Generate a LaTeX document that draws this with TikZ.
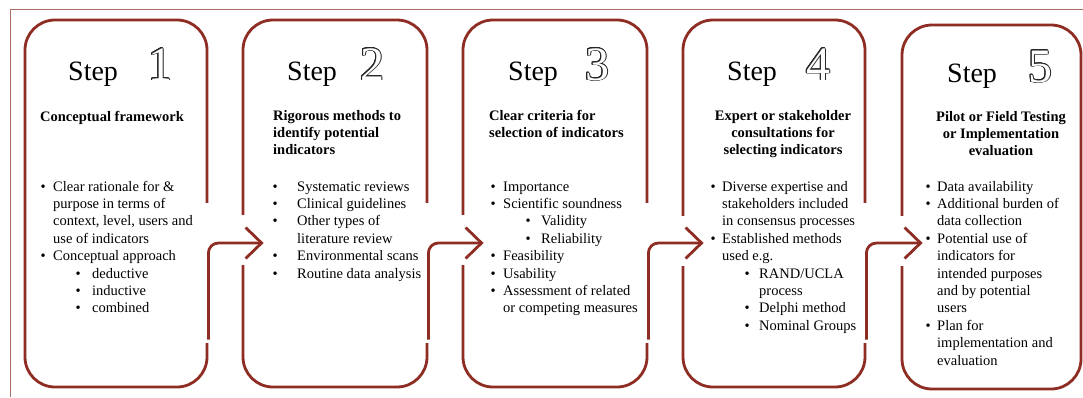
\documentclass[tikz,border=0pt]{standalone}
\usepackage{fontspec}
\setmainfont{Liberation Serif}
\usepackage[copies]{contour}
\usetikzlibrary{arrows.meta}
\definecolor{boxred}{RGB}{142,45,35}
\definecolor{framec}{RGB}{170,110,105}
\newcommand{\bl}[1]{\makebox[#1][l]{\textbullet}}
\newcommand{\dig}[1]{{\color{white}\contour{black!85}{#1}}}
\contourlength{0.8pt}
\begin{document}
\begin{tikzpicture}[x=1pt,y=-1pt,
  stepbox/.style={draw=boxred, line width=2.8pt, rounded corners=30pt, inner sep=0pt, minimum height=367pt},
  conn/.style={draw=boxred, line width=2.8pt, rounded corners=10pt, -{Straight Barb[length=16pt,width=31pt]}},
  gap/.style={fill=white, draw=none},
  steplbl/.style={font=\fontsize{28}{30}\selectfont, anchor=base west, inner sep=0pt},
  digit/.style={font=\fontsize{48}{50}\selectfont, anchor=base west, inner sep=0pt},
  head/.style={font=\fontsize{14.5}{17.4}\selectfont\bfseries, inner sep=0pt},
  body/.style={font=\fontsize{14.5}{17.4}\selectfont, align=left, anchor=north west, inner sep=0pt}]
\useasboundingbox (0,0) rectangle (1083,397);
\fill[white] (0,0) rectangle (1083,397);
\draw[framec, line width=0.8pt] (1083,9.5) -- (10.5,9.5) -- (10.5,397);

% boxes
\node[stepbox, minimum width=182pt] (b1) at (116,203.5) {};
\node[stepbox, minimum width=184pt] (b2) at (335,203.5) {};
\node[stepbox, minimum width=184pt] (b3) at (555,203.5) {};
\node[stepbox, minimum width=182pt] (b4) at (774,203.5) {};
\node[stepbox, minimum width=179pt, minimum height=364pt] (b5) at (991.5,207) {};

% gaps (right side: the connector redraws the lower part)
\fill[gap] (b1.east |- 0,203) ++(-3,0) rectangle ++(6,140);
\fill[gap] (b2.east |- 0,203) ++(-3,0) rectangle ++(6,140);
\fill[gap] (b3.east |- 0,203) ++(-3,0) rectangle ++(6,140);
\fill[gap] (b4.east |- 0,203) ++(-3,0) rectangle ++(6,140);
\fill[gap] (b2.west |- 0,215) ++(-3,0) rectangle ++(6,50);
\fill[gap] (b3.west |- 0,215) ++(-3,0) rectangle ++(6,50);
\fill[gap] (b4.west |- 0,216) ++(-3,0) rectangle ++(6,50);
\fill[gap] (b5.west |- 0,216) ++(-3,0) rectangle ++(6,50);

% connectors
\draw[conn] ([yshift=-136pt]b1.east) |- ([xshift=22pt,yshift=-39.5pt]b2.west);
\draw[conn] ([yshift=-136pt]b2.east) |- ([xshift=22pt,yshift=-39.5pt]b3.west);
\draw[conn] ([yshift=-136pt]b3.east) |- ([xshift=22pt,yshift=-39.5pt]b4.west);
\draw[conn] ([yshift=-136pt]b4.east) |- ([xshift=22pt,yshift=-36pt]b5.west);

% step labels
\node[steplbl] (s1) at (68,80) {Step};
\node[steplbl] (s2) at (287,80) {Step};
\node[steplbl] (s3) at (508,80) {Step};
\node[steplbl] (s4) at (727,80) {Step};
\node[steplbl] (s5) at (947,82) {Step};
\node[digit] (d1) at (148,80) {\dig{1}};
\node[digit] (d2) at (360,80) {\dig{2}};
\node[digit] (d3) at (585,80) {\dig{3}};
\node[digit] (d4) at (806,80) {\dig{4}};
\node[digit] (d5) at (1028,82) {\dig{5}};

% headings (first baseline = y + 12.18)
\node[head, anchor=north west] (h1) at (40,108.8) {\strut Conceptual framework};
\node[head, anchor=north west, align=left] (h2) at (273,107.8) {\strut Rigorous methods to\\identify potential\\indicators};
\node[head, anchor=north west, align=left] (h3) at (489,107.8) {\strut Clear criteria for\\selection of indicators};
\node[head, anchor=north, align=center] (h4) at (783,107.8) {\strut Expert or stakeholder\\consultations for\\selecting indicators};
\node[head, anchor=north, align=center] (h5) at (1001,108.8) {\strut Pilot or Field Testing\\or Implementation\\evaluation};

% lists (first baseline 191)
\node[body] (l1) at (40.5,178.8) {\strut\bl{12.5pt}Clear rationale for \&\\
\hspace*{12.5pt}purpose in terms of\\
\hspace*{12.5pt}context, level, users and\\
\hspace*{12.5pt}use of indicators\\
\bl{12.5pt}Conceptual approach\\
\hspace*{35pt}\bl{16.5pt}deductive\\
\hspace*{35pt}\bl{16.5pt}inductive\\
\hspace*{35pt}\bl{16.5pt}combined};

\node[body] (l2) at (272.5,178.8) {\strut\bl{24.5pt}Systematic reviews\\
\bl{24.5pt}Clinical guidelines\\
\bl{24.5pt}Other types of\\
\hspace*{24.5pt}literature review\\
\bl{24.5pt}Environmental scans\\
\bl{24.5pt}Routine data analysis};

\node[body] (l3) at (490.5,178.8) {\strut\bl{12.5pt}Importance\\
\bl{12.5pt}Scientific soundness\\
\hspace*{35pt}\bl{15.5pt}Validity\\
\hspace*{35pt}\bl{15.5pt}Reliability\\
\bl{12.5pt}Feasibility\\
\bl{12.5pt}Usability\\
\bl{12.5pt}Assessment of related\\
\hspace*{12.5pt}or competing measures};

\node[body] (l4) at (710.5,178.8) {\strut\bl{11.5pt}Diverse expertise and\\
\hspace*{11.5pt}stakeholders included\\
\hspace*{11.5pt}in consensus processes\\
\bl{11.5pt}Established methods\\
\hspace*{11.5pt}used e.g.\\
\hspace*{34pt}\bl{14.5pt}RAND/UCLA\\
\hspace*{48.5pt}process\\
\hspace*{34pt}\bl{14.5pt}Delphi method\\
\hspace*{34pt}\bl{14.5pt}Nominal Groups};

\node[body] (l5) at (925.5,178.8) {\strut\bl{11.5pt}Data availability\\
\bl{11.5pt}Additional burden of\\
\hspace*{11.5pt}data collection\\
\bl{11.5pt}Potential use of\\
\hspace*{11.5pt}indicators for\\
\hspace*{11.5pt}intended purposes\\
\hspace*{11.5pt}and by potential\\
\hspace*{11.5pt}users\\
\bl{11.5pt}Plan for\\
\hspace*{11.5pt}implementation and\\
\hspace*{11.5pt}evaluation};
\end{tikzpicture}
\end{document}
